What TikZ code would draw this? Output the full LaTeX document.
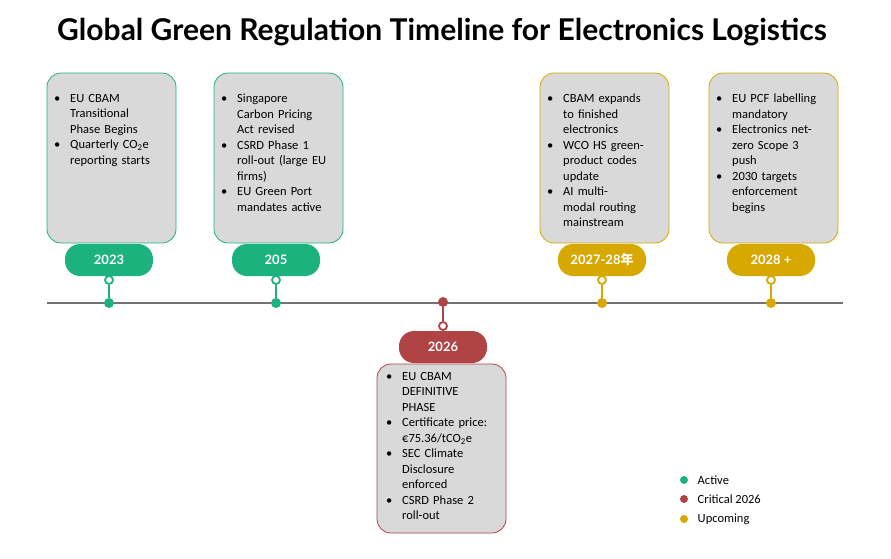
\documentclass[tikz,border=0pt]{standalone}
\usepackage{fontspec}
\setmainfont{Carlito}
\newfontfamily\titlefont{Lato}
\newfontfamily\cjkfont{Noto Sans CJK SC}
\usetikzlibrary{positioning}
\definecolor{activeclr}{HTML}{1BB27E}
\definecolor{criticalclr}{HTML}{B04444}
\definecolor{upcomingclr}{HTML}{D6A800}
\definecolor{boxfill}{HTML}{D9D9D9}
\newcommand\bitem[1]{\hyphenpenalty=10000\relax\parskip=0pt\relax\hangindent=16pt\hangafter=1\noindent\makebox[16pt][l]{\textbullet}#1\par}
\tikzset{
  eventbox/.style={draw=#1, fill=boxfill, rounded corners=14pt, line width=0.8pt},
  eventtext/.style={anchor=north west, inner sep=0pt, text width=106pt, align=left,
    font=\fontsize{12.5}{15.5}\selectfont},
  yearpill/.style={fill=#1, rounded corners=15pt, minimum width=88pt, minimum height=32pt,
    text=white, font=\titlefont\bfseries\fontsize{13}{13}\selectfont},
  ring/.style={circle, draw=#1, fill=white, line width=1.8pt, inner sep=0pt, minimum size=8pt},
  spot/.style={circle, fill=#1, inner sep=0pt, minimum size=10pt},
  legtext/.style={anchor=west, font=\fontsize{12.5}{14}\selectfont}
}
\begin{document}
\begin{tikzpicture}[x=1pt, y=-1pt]
  \useasboundingbox (0,0) rectangle (891,558);
  % Title
  \node (title) at (442,32) {\titlefont\bfseries\fontsize{30}{32}\selectfont Global Green Regulation Timeline for Electronics Logistics};
  % Axis
  \draw[line width=2.5pt, black!55] (47,303) -- (843,303);
  % Upper events
  \foreach \cx/\clr/\yr/\txt in {
      109/activeclr/2023/{\bitem{EU CBAM Transitional Phase Begins}\bitem{Quarterly CO\textsubscript{2}e reporting starts}},
      276/activeclr/205/{\bitem{Singapore Carbon Pricing Act revised}\bitem{CSRD Phase 1 roll-out (large EU firms)}\bitem{EU Green Port mandates active}},
      602/upcomingclr/2027-28{\cjkfont 年}/{\bitem{CBAM expands to finished electronics}\bitem{WCO HS green-product codes update}\bitem{AI multi-modal routing mainstream}},
      771/upcomingclr/2028 +/{\bitem{EU PCF labelling mandatory}\bitem{Electronics net-zero Scope 3 push}\bitem{2030 targets enforcement begins}}}{
    \draw[eventbox=\clr] (\cx-62,73) rectangle (\cx+67,243);
    \node[eventtext] at (\cx-55,94) {\txt};
    \node[spot=\clr] (dot\cx) at (\cx,303) {};
    \node[ring=\clr] (ring\cx) at (\cx,280) {};
    \draw[\clr, line width=2pt] (ring\cx) -- (dot\cx);
    \node[yearpill=\clr] (pill\cx) at (\cx,260) {\yr};
  }
  % Critical event below
  \draw[eventbox=criticalclr] (377,364) rectangle (506,533);
  \node[eventtext] (crittext) at (386,372) {\bitem{EU CBAM DEFINITIVE PHASE}\bitem{Certificate price: €75.36/tCO\textsubscript{2}e}\bitem{SEC Climate Disclosure enforced}\bitem{CSRD Phase 2 roll-out}};
  \node[spot=criticalclr] (dotcrit) at (443,302) {};
  \node[ring=criticalclr] (ringcrit) at (443,326) {};
  \draw[criticalclr, line width=2pt] (dotcrit) -- (ringcrit);
  \node[yearpill=criticalclr] (pillcrit) at (443,347) {2026};
  % Legend
  \node[spot=activeclr, minimum size=8pt] (legact) at (684,480) {};
  \node[legtext, right=6pt of legact] {Active};
  \node[spot=criticalclr, minimum size=8pt] (legcrit) at (684,499) {};
  \node[legtext, right=6pt of legcrit] {Critical 2026};
  \node[spot=upcomingclr, minimum size=8pt] (legup) at (684,519) {};
  \node[legtext, right=6pt of legup] {Upcoming};
\end{tikzpicture}
\end{document}
